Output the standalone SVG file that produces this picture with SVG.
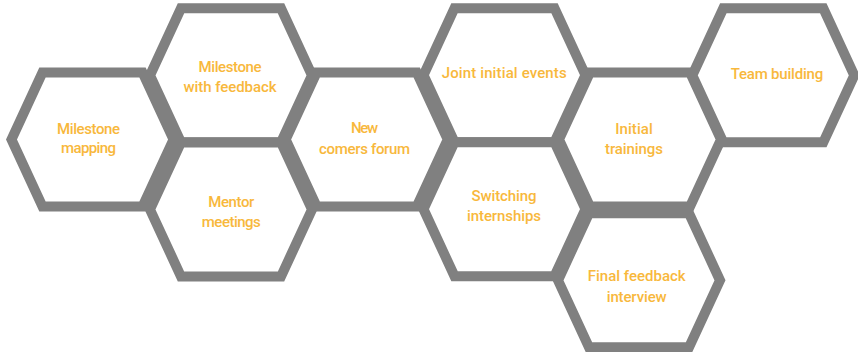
<svg xmlns="http://www.w3.org/2000/svg" width="858" height="352" viewBox="0 0 858 352">
<defs>
<style>
.hex{fill:#ffffff;stroke:#808080;stroke-width:10;stroke-linejoin:miter}
.lbl{font-family:Roboto,"Liberation Sans",Arial,sans-serif;font-weight:500;font-size:15px;fill:#F8B83C;text-anchor:middle}
</style>
<path id="h" d="M-50,-67 L50,-67 L81,0 L50,67 L-50,67 L-81,0 Z"/>
</defs>
<rect width="858" height="352" fill="#ffffff"/>
<g id="connectors"></g>
<g id="milestone-mapping">
<use href="#h" class="hex" transform="translate(92.5,139.5)"/>
<text class="lbl" x="88.5" y="134" textLength="63">Milestone</text>
<text class="lbl" x="88.5" y="153.3" textLength="55">mapping</text>
</g>
<g id="milestone-feedback">
<use href="#h" class="hex" transform="translate(231,75.3)"/>
<text class="lbl" x="230" y="71.7" textLength="63">Milestone</text>
<text class="lbl" x="230" y="91.7" textLength="93">with feedback</text>
</g>
<g id="mentor-meetings">
<use href="#h" class="hex" transform="translate(231,209.5)"/>
<text class="lbl" x="231.3" y="206.7" textLength="46">Mentor</text>
<text class="lbl" x="231.3" y="226.7" textLength="59">meetings</text>
</g>
<g id="new-comers-forum">
<use href="#h" class="hex" transform="translate(366.7,139.5)"/>
<text class="lbl" x="364.6" y="133.3" textLength="27">New</text>
<text class="lbl" x="364.6" y="154.3" textLength="91">comers forum</text>
</g>
<g id="joint-initial-events">
<use href="#h" class="hex" transform="translate(504.5,75.2)"/>
<text class="lbl" x="504.2" y="78.3" textLength="125">Joint initial events</text>
</g>
<g id="switching-internships">
<use href="#h" class="hex" transform="translate(504.5,209.2)"/>
<text class="lbl" x="504" y="201" textLength="65">Switching</text>
<text class="lbl" x="504" y="221" textLength="74">internships</text>
</g>
<g id="initial-trainings">
<use href="#h" class="hex" transform="translate(640,139.5)"/>
<text class="lbl" x="634" y="134" textLength="37.5">Initial</text>
<text class="lbl" x="634" y="154.3" textLength="58">trainings</text>
</g>
<g id="final-feedback-interview">
<use href="#h" class="hex" transform="translate(639,280.3)"/>
<text class="lbl" x="636.7" y="281" textLength="98">Final feedback</text>
<text class="lbl" x="636.7" y="301.7" textLength="60">interview</text>
</g>
<g id="team-building">
<use href="#h" class="hex" transform="translate(773.3,75.3)"/>
<text class="lbl" x="777" y="79.3" textLength="92.5">Team building</text>
</g>
</svg>
